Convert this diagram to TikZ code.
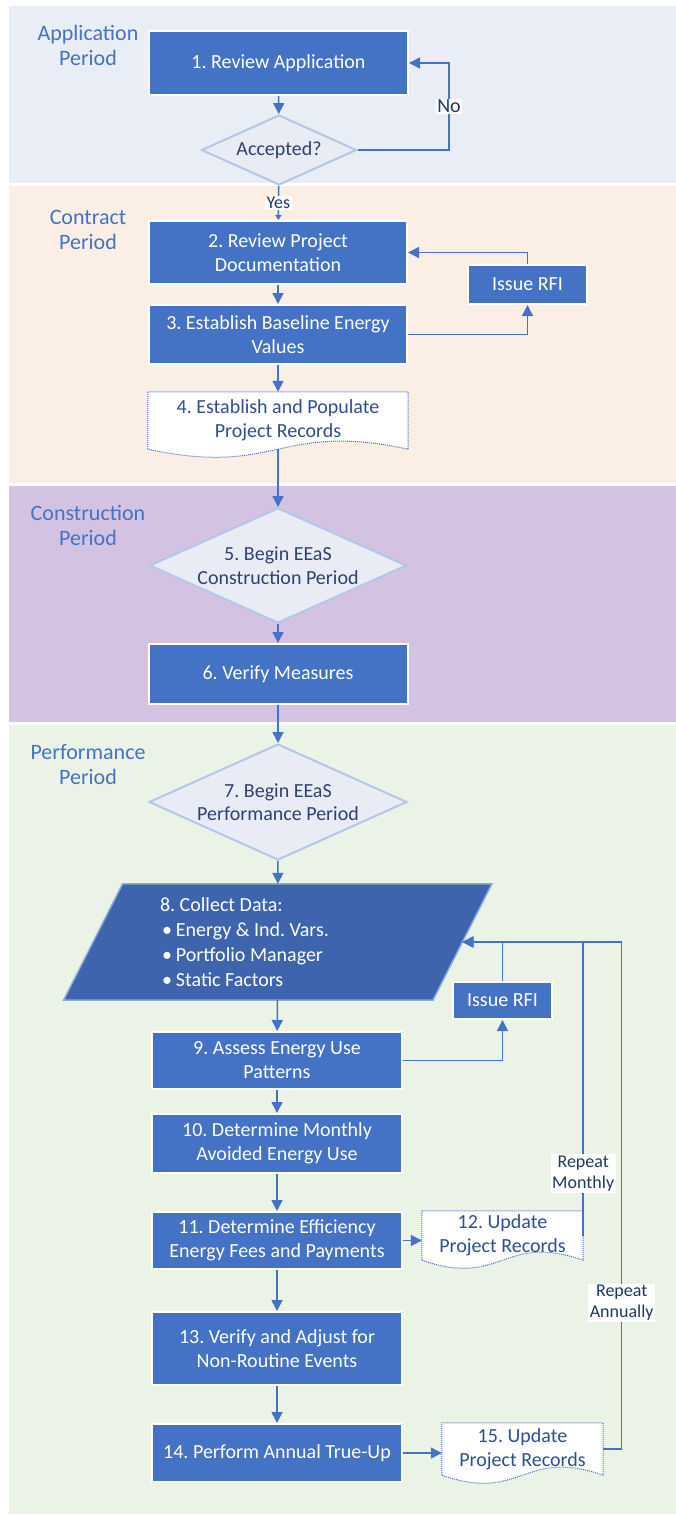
\documentclass[tikz,border=0pt]{standalone}
\usepackage{fontspec}
\setmainfont{Carlito}
\usetikzlibrary{arrows.meta,calc,shapes.geometric,backgrounds}
\definecolor{boxblue}{HTML}{4472C4}
\definecolor{paradark}{HTML}{3E64AD}
\definecolor{paraedge}{HTML}{8FAADC}
\definecolor{dialight}{HTML}{E9ECF5}
\definecolor{diaedge}{HTML}{B4C7E7}
\definecolor{navy}{HTML}{2E4172}
\definecolor{doctext}{HTML}{2F4F8F}
\definecolor{tagnavy}{HTML}{1F3864}
\definecolor{bandapp}{HTML}{E9EDF5}
\definecolor{bandcon}{HTML}{FBEEE4}
\definecolor{bandbld}{HTML}{D4C2E2}
\definecolor{bandperf}{HTML}{EBF3E7}
\tikzset{
  stepbox/.style={rectangle, fill=boxblue, draw=white, line width=2pt, text=white, align=center, inner sep=0pt, font=\fontsize{20}{24}\selectfont},
  decide/.style={diamond, aspect=2.2, fill=dialight, draw=diaedge, line width=2pt, text=navy, align=center, inner sep=-5pt, font=\fontsize{20}{23.5}\selectfont},
  recnode/.style={rectangle, text=doctext, align=center, inner sep=0pt, font=\fontsize{20}{24}\selectfont},
  docline/.style={fill=white, draw=boxblue, line width=1pt, dash pattern=on 1pt off 1pt},
  period/.style={text=boxblue, align=center, font=\fontsize{22}{25}\selectfont},
  tag/.style={fill=white, text=tagnavy, align=center, inner sep=1.5pt, font=\fontsize{18}{21}\selectfont},
  flow/.style={draw=boxblue, line width=1.5pt, -{Triangle[length=11pt,width=11pt]}}
}
\begin{document}
\frenchspacing
\begin{tikzpicture}[x=1pt,y=-1pt]
\useasboundingbox (0,0) rectangle (676,1515);
% period bands
\begin{scope}[on background layer]
  \fill[bandapp] (9,6) rectangle (676,183);
  \fill[bandcon] (9,186) rectangle (676,483);
  \fill[bandbld] (9,486) rectangle (676,722);
  \fill[bandperf] (9,725) rectangle (676,1514);
\end{scope}
\node[period] (lapp) at (88,45.5) {Application\\Period};
\node[period] (lcon) at (88,230) {Contract\\Period};
\node[period] (lbld) at (88,525) {Construction\\Period};
\node[period] (lperf) at (88,764.5) {Performance\\Period};

% application and contract
\node[stepbox, minimum width=259, minimum height=64] (review) at (278.5,63) {1. Review Application};
\node[decide, minimum width=155, minimum height=70] (accepted) at (279,150) {Accepted?};
\node[stepbox, minimum width=258, minimum height=63] (docs) at (278,252.5) {2. Review Project\\Documentation};
\node[stepbox, minimum width=119, minimum height=39] (rfia) at (527.5,284.5) {Issue RFI};
\node[stepbox, minimum width=258, minimum height=59] (baseline) at (278,334.5) {3. Establish Baseline Energy\\Values};
\node[recnode, minimum width=260, minimum height=57] (recfour) at (278,420.5) {4. Establish and Populate\\Project Records};

% construction
\node[decide, minimum width=257, minimum height=115] (build) at (278,565.5) {5. Begin EEaS\\Construction Period};
\node[stepbox, minimum width=259, minimum height=60] (verify) at (278,674) {6. Verify Measures};

% performance
\node[decide, minimum width=258, minimum height=116] (perform) at (278,802) {7. Begin EEaS\\Performance Period};
\node[rectangle, minimum width=369, minimum height=116, text width=235.5, align=left, inner sep=0pt, text=white,
  font=\fontsize{20}{25}\selectfont] (collect) at (277.75,942)
  {\spaceskip=0pt\xspaceskip=0pt\relax
   8. Collect Data:\\ \hspace*{2pt}\textbullet\hspace{4pt}Energy \& Ind. Vars.\\ \hspace*{2pt}\textbullet\hspace{4pt}Portfolio Manager\\ \hspace*{2pt}\textbullet\hspace{4pt}Static Factors};
\node[stepbox, minimum width=99, minimum height=37] (rfib) at (502.5,1000.5) {Issue RFI};
\node[stepbox, minimum width=250, minimum height=57] (assess) at (277,1060.5) {9. Assess Energy Use\\Patterns};
\node[stepbox, minimum width=250, minimum height=59] (avoided) at (277,1143.5) {10. Determine Monthly\\Avoided Energy Use};
\node[stepbox, minimum width=250, minimum height=57] (fees) at (277,1240.5) {11. Determine Efficiency\\Energy Fees and Payments};
\node[recnode, minimum width=161, minimum height=49] (recmonth) at (502.5,1235.5) {12. Update\\Project Records};
\node[stepbox, minimum width=250, minimum height=73] (events) at (277,1348.5) {13. Verify and Adjust for\\Non-Routine Events};
\node[stepbox, minimum width=250, minimum height=58] (trueup) at (277,1453) {14. Perform Annual True-Up};
\node[recnode, minimum width=161, minimum height=52] (recyear) at (522.5,1449) {15. Update\\Project Records};

% record shapes and data shape
\begin{scope}[on background layer]
  \foreach \d in {recfour,recmonth,recyear}
    \draw[docline] (\d.south west) -- (\d.north west) -- (\d.north east) -- (\d.south east)
      .. controls ($(\d.south)+(0,-28)$) and ($(\d.south)+(0,28)$) .. (\d.south west) -- cycle;
  \draw[fill=paradark, draw=paraedge, line width=1.5pt] ($(collect.south west)+(-29.5,0)$) -- ($(collect.north west)+(29.5,0)$)
    -- ($(collect.north east)+(29.5,0)$) -- ($(collect.south east)+(-29.5,0)$) -- cycle;
\end{scope}

% connectors
\draw[flow] (review) -- (accepted);
\draw[flow, -{Triangle[length=5pt,width=6pt]}] (accepted) -- node[tag] {Yes} (docs);
\draw[flow] (accepted.east) -- ++(91.5,0) |- node[tag, pos=0.25, font=\fontsize{20}{24}\selectfont] {No} (review.east);
\draw[flow] (docs) -- (baseline);
\draw[flow] (baseline.east) -| (rfia.south);
\draw[flow] (rfia.north) |- (docs.east);
\draw[flow] (baseline) -- (recfour);
\draw[flow] (recfour) -- (build);
\draw[flow] (build) -- (verify);
\draw[flow] (verify) -- (perform);
\draw[flow] (perform) -- (collect);
\draw[flow] (collect) -- (assess);
\draw[flow] (assess.east) -| (rfib.south);
\draw[flow] (rfib.north) |- (collect.east);
\draw[flow] (assess) -- (avoided);
\draw[flow] (avoided) -- (fees);
\draw[flow] (fees.east) -- (fees.east -| recmonth.west);
\draw[flow] (recmonth.east) |- node[tag, pos=0.106] {Repeat\\Monthly} (collect.east);
\draw[flow] (fees) -- (events);
\draw[flow] (events) -- (trueup);
\draw[flow] (trueup.east) -- (trueup.east -| recyear.west);
\draw[flow] (recyear.east) -- ++(18.5,0) |- node[tag, pos=0.144] {Repeat\\Annually} (collect.east);
\end{tikzpicture}
\end{document}
